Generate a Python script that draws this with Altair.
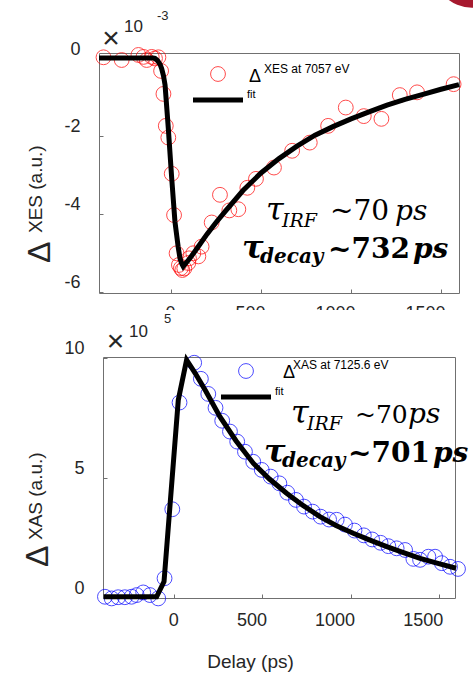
import altair as alt
import pandas as pd

# ---------------- data ----------------
xes_delay = [-375, -274, -181, -153, -135, -107, -89, -70, -55, -42, -29, -15, 4, 17, 31, 44,
             55, 63, 74, 96, 100, 124, 152, 170, 226, 272, 324, 374, 424, 472, 572, 673, 771,
             873, 971, 1071, 1169, 1271, 1367, 1570]
xes_signal = [0.02, -0.05, 0.08, 0.03, -0.05, 0.03, -0.01, 0.02, -0.33, -0.92, -1.74, -2.04, -2.97,
              -4.03, -5.01, -5.31, -5.39, -5.44, -5.40, -5.26, -5.14, -5.01, -5.09, -4.84, -4.22,
              -3.51, -3.91, -3.88, -3.33, -3.10, -2.81, -2.38, -2.17, -1.74, -1.27, -1.49, -1.56,
              -0.95, -0.88, -0.67]

xes_fit_delay = [-400, -100, -89, -75, -60, -52, -42, -33, -15, 4, 22, 40, 50, 60, 68, 80, 105,
                 150, 200, 250, 300, 400, 500, 600, 700, 800, 900, 1000, 1100, 1200, 1300, 1400,
                 1500, 1600]
xes_fit_signal = [0.0, 0.0, -0.01, -0.06, -0.17, -0.27, -0.45, -0.69, -1.80, -3.09, -4.20, -4.85,
                  -5.14, -5.28, -5.35, -5.28, -5.14, -4.85, -4.52, -4.22, -3.94, -3.40, -2.95,
                  -2.58, -2.26, -1.98, -1.76, -1.56, -1.38, -1.21, -1.06, -0.93, -0.80, -0.68]

xas_delay = [-393, -355, -318, -280, -242, -213, -176, -138, -91, -55, -11, 30, 113, 151, 193, 234,
             272, 316, 357, 401, 448, 496, 547, 596, 641, 690, 736, 785, 830, 878, 921, 968, 1022,
             1075, 1122, 1170, 1214, 1261, 1309, 1356, 1394, 1441, 1479, 1517, 1564, 1609]
xas_signal = [0.04, -0.03, 0.02, 0.02, 0.04, 0.11, 0.22, 0.11, -0.03, 0.81, 3.69, 8.14, 9.80, 9.13,
              8.50, 7.92, 7.38, 6.93, 6.51, 6.09, 5.67, 5.33, 5.05, 4.77, 4.38, 4.08, 3.80, 3.59,
              3.38, 3.26, 3.25, 3.05, 2.80, 2.60, 2.43, 2.29, 2.15, 2.06, 1.99, 1.62, 1.58, 1.71,
              1.71, 1.44, 1.29, 1.20]

xas_fit_delay = [-400, -100, -58, 23, 70, 120, 180, 259, 350, 448, 540, 637, 730, 826, 920, 1015,
                 1110, 1205, 1300, 1394, 1500, 1598]
xas_fit_signal = [0.04, 0.04, 0.67, 8.25, 9.92, 9.35, 8.60, 7.55, 6.55, 5.61, 4.95, 4.36, 3.85,
                  3.38, 3.00, 2.69, 2.40, 2.13, 1.88, 1.64, 1.42, 1.23]

x_ticks = [0, 500, 1000, 1500]
xes_y_ticks = [-6, -4, -2, 0]
xas_y_ticks = [0, 5, 10]

# ---------------- helpers ----------------
one = pd.DataFrame({"k": [0]})
SANS = "Liberation Sans"
SERIF = "DejaVu Serif"
LABEL = "#262626"
FRAME = "#707070"


def txt(s, x, y, size, font=SANS, style="normal", weight="normal", align="left",
        baseline="alphabetic", angle=None, color="black"):
    kw = dict(text=s, fontSize=size, font=font, fontStyle=style, fontWeight=weight,
              align=align, baseline=baseline, color=color)
    if angle is not None:
        kw["angle"] = angle
    return alt.Chart(one).mark_text(**kw).encode(x=alt.value(x), y=alt.value(y))


def encs(xdom, ydom, yvals, xtitle, xpad, ypad):
    xaxis_kw = dict(values=x_ticks, labelExpr="'' + datum.value", labelFontSize=18,
                    labelFont=SANS, labelColor=LABEL, labelAlign="right", labelOffset=4,
                    labelPadding=xpad, tickSize=4, offset=-4, domain=False, tickColor=FRAME,
                    grid=False)
    if xtitle:
        xaxis_kw.update(title=xtitle, titleFontSize=19, titleFont=SANS, titleFontWeight="normal",
                        titleColor=LABEL, titleX=147, titleY=73, titleBaseline="alphabetic",
                        titleAlign="center")
    else:
        xaxis_kw.update(title=None)
    x = alt.X("delay:Q", scale=alt.Scale(domain=xdom, nice=False, zero=False),
              axis=alt.Axis(**xaxis_kw))
    y = alt.Y("signal:Q", scale=alt.Scale(domain=ydom, nice=False, zero=False),
              axis=alt.Axis(values=yvals, labelExpr="'' + datum.value", title=None,
                            labelFontSize=18, labelFont=SANS, labelColor=LABEL,
                            labelOffset=-9, labelPadding=ypad, tickSize=4, offset=-4,
                            domain=False, tickColor=FRAME, grid=False))
    return x, y


# ---------------- top panel: XES ----------------
xes_df = pd.DataFrame({"delay": xes_delay, "signal": xes_signal})
xes_fit_df = pd.DataFrame({"delay": xes_fit_delay, "signal": xes_fit_signal})
tx, ty = encs([-400, 1600], [-6.03, 0.13], xes_y_ticks, None, 11, 19)

top_pts = alt.Chart(xes_df).mark_point(shape="circle", filled=False, color="#ff0000",
                                       size=220, strokeWidth=1).encode(x=tx, y=ty)
top_fit = alt.Chart(xes_fit_df).mark_line(color="black", strokeWidth=5).encode(x=tx, y=ty)

top_layers = [
    top_pts, top_fit,
    # legend
    alt.Chart(one).mark_point(shape="circle", filled=False, color="#ff0000", size=220,
                              strokeWidth=1).encode(x=alt.value(119), y=alt.value(21)),
    txt("Δ", 150, 29, 18),
    txt("XES at 7057 eV", 165, 20, 12),
    alt.Chart(one).mark_rule(color="black", strokeWidth=5).encode(
        x=alt.value(94), x2=alt.value(144), y=alt.value(47)),
    txt("fit", 148, 45, 11),
    # annotations
    txt("τ", 167, 167, 32, font=SERIF, style="italic"),
    txt("IRF", 183, 174, 19, font=SERIF, style="italic"),
    txt("~70", 231, 167, 28, font=SERIF),
    txt("ps", 296, 167, 28, font=SERIF, style="italic"),
    txt("τ", 143, 205, 32, font=SERIF, style="italic", weight="bold"),
    txt("decay", 161, 210, 20, font=SERIF, style="italic", weight="bold"),
    txt("~732", 229, 205, 28, font=SERIF, weight="bold"),
    txt("ps", 314, 205, 28, font=SERIF, style="italic", weight="bold"),
    # y title
    txt("Δ", -49, 210, 32, angle=270, color=LABEL),
    txt("XES (a.u.)", -57, 180, 19, angle=270, color=LABEL),
    # exponent
    txt("×", 12, -14, 30, align="center", baseline="middle", color=LABEL),
    txt("10", 25, -21, 17, color=LABEL),
    txt("-3", 58, -33, 13, color=LABEL),
    # logo fragment
    alt.Chart(one).mark_point(shape="circle", filled=True, color="#a6192e", opacity=1,
                              size=6000).encode(x=alt.value(373), y=alt.value(-84)),
]
top = alt.layer(*top_layers).properties(width=360, height=240)

# ---------------- bottom panel: XAS ----------------
xas_df = pd.DataFrame({"delay": xas_delay, "signal": xas_signal})
xas_fit_df = pd.DataFrame({"delay": xas_fit_delay, "signal": xas_fit_signal})
bx, by = encs([-404, 1592], [-0.0125, 10.04], xas_y_ticks, "Delay (ps)", 13, 19)

bot_pts = alt.Chart(xas_df).mark_point(shape="circle", filled=False, color="#0000ff",
                                       size=220, strokeWidth=1).encode(x=bx, y=by)
bot_fit = alt.Chart(xas_fit_df).mark_line(color="black", strokeWidth=5).encode(x=bx, y=by)

bot_layers = [
    # white band hiding the lower part of the upper panel's tick labels
    alt.Chart(one).mark_rect(color="white").encode(
        x=alt.value(40), x2=alt.value(370), y=alt.value(-47), y2=alt.value(-16)),
    bot_pts, bot_fit,
    alt.Chart(one).mark_point(shape="circle", filled=False, color="#0000ff", size=220,
                              strokeWidth=1).encode(x=alt.value(143), y=alt.value(14)),
    txt("Δ", 180, 21, 18),
    txt("XAS at 7125.6 eV", 190, 12, 12),
    alt.Chart(one).mark_rule(color="black", strokeWidth=5).encode(
        x=alt.value(118), x2=alt.value(168), y=alt.value(40)),
    txt("fit", 172, 38, 11),
    txt("τ", 188, 66, 32, font=SERIF, style="italic"),
    txt("IRF", 204, 73, 19, font=SERIF, style="italic"),
    txt("~70", 252, 66, 25, font=SERIF),
    txt("ps", 305, 66, 28, font=SERIF, style="italic"),
    txt("τ", 161, 105, 32, font=SERIF, style="italic", weight="bold"),
    txt("decay", 179, 110, 20, font=SERIF, style="italic", weight="bold"),
    txt("~701", 245, 105, 28, font=SERIF, weight="bold"),
    txt("ps", 330, 105, 28, font=SERIF, style="italic", weight="bold"),
    txt("Δ", -55, 210, 32, angle=270, color=LABEL),
    txt("XAS (a.u.)", -61, 183, 19, angle=270, color=LABEL),
    txt("×", 12.5, -15, 30, align="center", baseline="middle", color=LABEL),
    txt("10", 26, -20, 17, color=LABEL),
    txt("5", 61, -34, 13, color=LABEL),
]
bottom = alt.layer(*bot_layers).properties(width=352, height=241)

chart = alt.vconcat(top, bottom, spacing=64, bounds="flush", center=True).properties(
    autosize=alt.AutoSizeParams(type="none"),
    padding={"left": 99, "top": 53, "right": 374, "bottom": 622},
    background="white",
).configure_view(stroke=FRAME, strokeWidth=1, fill=None)

chart.save("out.html", embed_options={"renderer": "svg", "actions": False})
